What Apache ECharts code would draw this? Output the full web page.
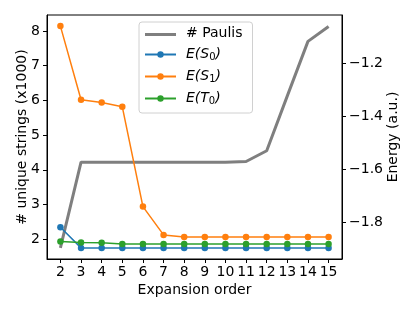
<!DOCTYPE html>
<html>
<head>
<meta charset="utf-8">
<script src="https://cdn.jsdelivr.net/npm/echarts@6/dist/echarts.min.js"></script>
<style>
html,body{margin:0;padding:0;background:#fff;}
#chart{width:415px;height:311px;}
</style>
</head>
<body>
<div id="chart"></div>
<script>
const orders = [2, 3, 4, 5, 6, 7, 8, 9, 10, 11, 12, 13, 14, 15];
const paulis = [1.75, 4.22, 4.22, 4.22, 4.22, 4.22, 4.22, 4.22, 4.22, 4.24, 4.55, 6.13, 7.70, 8.13];
const eS0 = [-1.820, -1.898, -1.898, -1.898, -1.898, -1.898, -1.898, -1.898, -1.898, -1.898, -1.898, -1.898, -1.898, -1.898];
const eS1 = [-1.060, -1.338, -1.349, -1.365, -1.742, -1.849, -1.857, -1.857, -1.857, -1.857, -1.857, -1.857, -1.857, -1.857];
const eT0 = [-1.874, -1.878, -1.879, -1.883, -1.883, -1.883, -1.883, -1.883, -1.883, -1.883, -1.883, -1.883, -1.883, -1.883];
const xTicks = [2, 3, 4, 5, 6, 7, 8, 9, 10, 11, 12, 13, 14, 15];
const leftTicks = [2, 3, 4, 5, 6, 7, 8];
const rightTicks = [-1.8, -1.6, -1.4, -1.2];

const pair = arr => arr.map((v, i) => [orders[i], v]);
const FONT = 'DejaVu Sans';
const FS = 14;
const chart = echarts.init(document.getElementById('chart'), null, {renderer: 'canvas'});

const legendRich = {
  it: {fontFamily: FONT, fontStyle: 'italic', fontSize: FS, color: '#000'},
  n: {fontFamily: FONT, fontSize: FS, color: '#000'},
  sub: {fontFamily: FONT, fontSize: 10, color: '#000', padding: [6, 0, 0, 0]}
};
const legendLabel = {
  '# Paulis': '{n|# Paulis}',
  'E(S0)': '{it|E(S}{sub|0}{it|)}',
  'E(S1)': '{it|E(S}{sub|1}{it|)}',
  'E(T0)': '{it|E(T}{sub|0}{it|)}'
};

const axisCommon = {
  axisLine: {show: true, lineStyle: {color: '#000', width: 1}},
  axisTick: {show: true, inside: false, length: 4, lineStyle: {color: '#000', width: 1}},
  splitLine: {show: false},
  nameMoveOverlap: false,
  axisLabel: {color: '#000', fontFamily: FONT, fontSize: FS, margin: 4},
  nameTextStyle: {color: '#000', fontFamily: FONT, fontSize: FS}
};

chart.setOption({
  animation: false,
  backgroundColor: '#fff',
  grid: {left: 47, right: 73, top: 15, bottom: 52, show: true, borderColor: '#000', borderWidth: 1, backgroundColor: 'transparent'},
  xAxis: Object.assign({}, axisCommon, {
    type: 'value', min: 1.35, max: 15.65,
    name: 'Expansion order', nameLocation: 'middle', nameGap: 24,
    axisTick: Object.assign({}, axisCommon.axisTick, {customValues: xTicks}),
    axisLabel: Object.assign({}, axisCommon.axisLabel, {customValues: xTicks, margin: 6})
  }),
  yAxis: [
    Object.assign({}, axisCommon, {
      type: 'value', position: 'left', min: 1.43, max: 8.46,
      name: '# unique strings (x1000)', nameLocation: 'middle', nameGap: 18, nameRotate: 90,
      axisTick: Object.assign({}, axisCommon.axisTick, {customValues: leftTicks}),
      axisLabel: Object.assign({}, axisCommon.axisLabel, {customValues: leftTicks, margin: 7})
    }),
    Object.assign({}, axisCommon, {
      type: 'value', position: 'right', min: -1.94, max: -1.018,
      name: 'Energy (a.u.)', nameLocation: 'middle', nameGap: 44, nameRotate: 90,
      axisTick: Object.assign({}, axisCommon.axisTick, {customValues: rightTicks}),
      axisLabel: Object.assign({}, axisCommon.axisLabel, {customValues: rightTicks, margin: 7,
        formatter: v => v.toFixed(1).replace('-', '\u2212')})
    })
  ],
  legend: {
    left: 139, top: 22,
    orient: 'vertical',
    backgroundColor: '#fff',
    borderColor: '#d0d0d0', borderWidth: 1, borderRadius: 3,
    padding: [4, 10, 7, 5],
    itemWidth: 31, itemHeight: 8, itemGap: 7,
    textStyle: {fontFamily: FONT, fontSize: FS, color: '#000', rich: legendRich, padding: [0, 0, 0, 5], height: 17},
    formatter: name => legendLabel[name],
    data: [
      {name: '# Paulis', icon: 'path://M0,0H31V3H0Z'},
      'E(S0)', 'E(S1)', 'E(T0)'
    ]
  },
  series: [
    {name: '# Paulis', type: 'line', yAxisIndex: 0, data: pair(paulis), symbol: 'none',
     lineStyle: {color: '#7f7f7f', width: 3}, itemStyle: {color: '#7f7f7f'}, z: 1},
    {name: 'E(S0)', type: 'line', yAxisIndex: 1, data: pair(eS0), symbol: 'circle', symbolSize: 6.5,
     lineStyle: {color: '#1f77b4', width: 1.5}, itemStyle: {color: '#1f77b4'}, z: 2},
    {name: 'E(S1)', type: 'line', yAxisIndex: 1, data: pair(eS1), symbol: 'circle', symbolSize: 6.5,
     lineStyle: {color: '#ff7f0e', width: 1.5}, itemStyle: {color: '#ff7f0e'}, z: 3},
    {name: 'E(T0)', type: 'line', yAxisIndex: 1, data: pair(eT0), symbol: 'circle', symbolSize: 6.5,
     lineStyle: {color: '#2ca02c', width: 1.5}, itemStyle: {color: '#2ca02c'}, z: 4}
  ]
});
</script>
</body>
</html>
